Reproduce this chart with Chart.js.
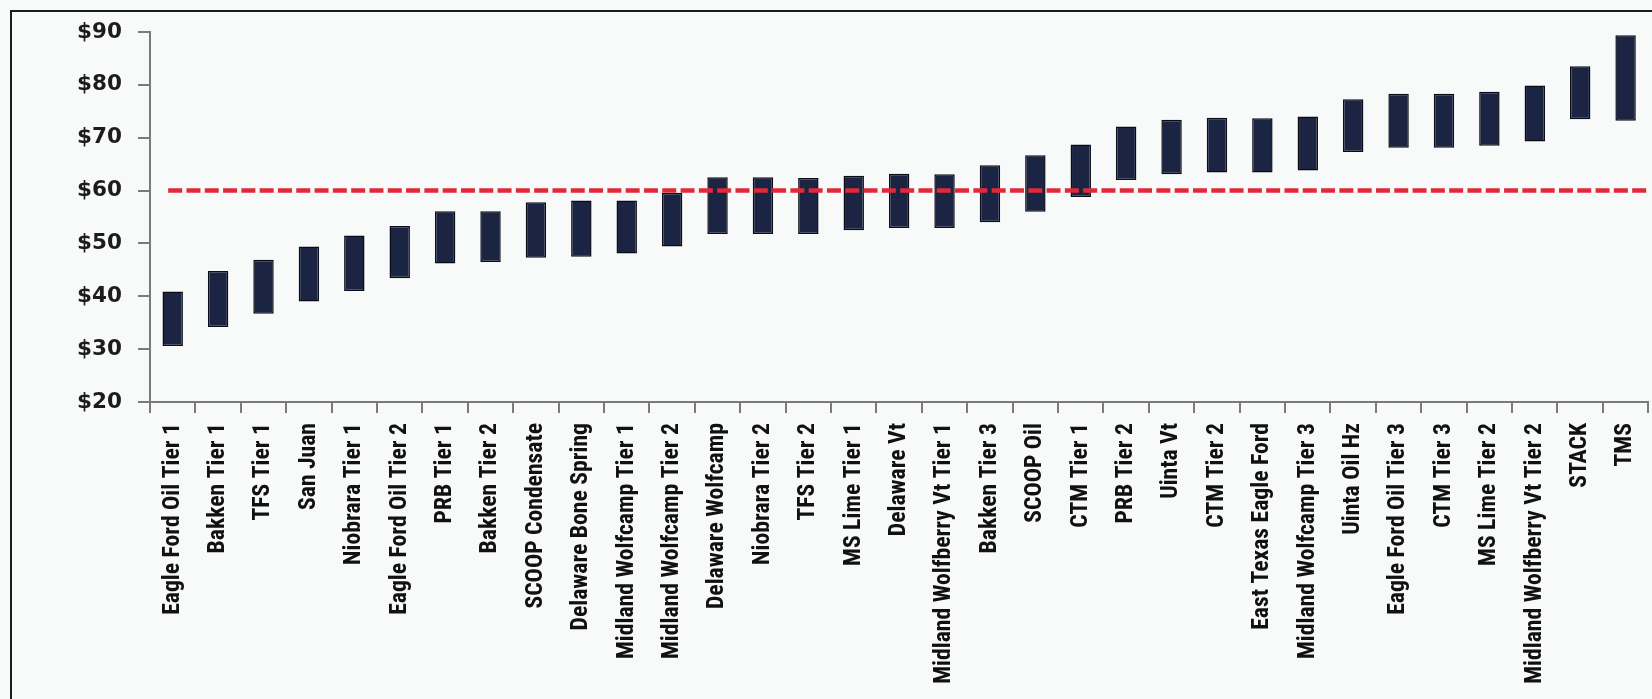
<!DOCTYPE html>
<html>
<head>
<meta charset="utf-8">
<script src="https://cdn.jsdelivr.net/npm/chart.js@4/dist/chart.umd.min.js"></script>
<style>
  html, body { margin: 0; padding: 0; overflow: hidden; background: #f8faf9; }
  #frame { position: absolute; left: 10px; top: 10px; width: 2000px; height: 2000px;
           border: 2px solid #1c1c1c; box-sizing: border-box; }
  #wrap { position: absolute; left: 0; top: 0; width: 1664px; height: 699px; }
</style>
</head>
<body>
<div id="frame"></div>
<div id="wrap"><canvas id="c"></canvas></div>
<script>
// ---- data ----
const categories = [
  "Eagle Ford Oil Tier 1", "Bakken Tier 1", "TFS Tier 1", "San Juan", "Niobrara Tier 1",
  "Eagle Ford Oil Tier 2", "PRB Tier 1", "Bakken Tier 2", "SCOOP Condensate", "Delaware Bone Spring",
  "Midland Wolfcamp Tier 1", "Midland Wolfcamp Tier 2", "Delaware Wolfcamp", "Niobrara Tier 2", "TFS Tier 2",
  "MS Lime Tier 1", "Delaware Vt", "Midland Wolfberry Vt Tier 1", "Bakken Tier 3", "SCOOP Oil",
  "CTM Tier 1", "PRB Tier 2", "Uinta Vt", "CTM Tier 2", "East Texas Eagle Ford",
  "Midland Wolfcamp Tier 3", "Uinta Oil Hz", "Eagle Ford Oil Tier 3", "CTM Tier 3", "MS Lime Tier 2",
  "Midland Wolfberry Vt Tier 2", "STACK", "TMS"
];
const lowPrice = [
  30.6, 34.2, 36.7, 39.0, 41.0, 43.4, 46.2, 46.5, 47.3, 47.5,
  48.1, 49.4, 51.8, 51.8, 51.8, 52.5, 52.9, 52.9, 54.0, 56.0,
  58.8, 62.0, 63.1, 63.4, 63.4, 63.8, 67.3, 68.1, 68.1, 68.5,
  69.3, 73.5, 73.2
];
const highPrice = [
  40.9, 44.8, 46.9, 49.4, 51.5, 53.3, 56.1, 56.1, 57.8, 58.1,
  58.1, 59.6, 62.5, 62.5, 62.4, 62.8, 63.2, 63.1, 64.8, 66.7,
  68.7, 72.1, 73.4, 73.8, 73.7, 74.0, 77.3, 78.3, 78.3, 78.7,
  79.9, 83.5, 89.4
];
const yTicks = [20, 30, 40, 50, 60, 70, 80, 90];
const referencePrice = 60;
const referenceSpan = [0.4, 33];   // in category units along the axis

// ---- font choice for rotated category labels ----
function pickLabelFont() {
  const ctx = document.createElement('canvas').getContext('2d');
  const sample = categories[0];
  const cands = ['Liberation Sans Narrow', 'Roboto Condensed', 'Open Sans Condensed', 'Liberation Sans'];
  ctx.font = 'bold 100px monospace';
  const base = ctx.measureText(sample).width;
  for (const f of cands) {
    ctx.font = 'bold 100px "' + f + '", monospace';
    const w = ctx.measureText(sample).width;
    if (Math.abs(w - base) > 0.5) return { family: '"' + f + '"', size: 192 / (w / 100) };
  }
  return { family: 'sans-serif', size: 19 };
}
const lf = pickLabelFont();

const ranges = categories.map((_, i) => [lowPrice[i], highPrice[i]]);

new Chart(document.getElementById('c'), {
  type: 'bar',
  data: {
    labels: categories,
    datasets: [
      {
        type: 'line',
        order: 0,
        xAxisID: 'xl',
        data: [{ x: referenceSpan[0], y: referencePrice }, { x: referenceSpan[1], y: referencePrice }],
        borderColor: '#e2293a',
        borderWidth: 4.5,
        borderDash: [14, 4.3],
        pointRadius: 0,
        fill: false
      },
      {
        type: 'bar',
        order: 1,
        xAxisID: 'x',
        data: ranges,
        grouped: false,
        backgroundColor: '#1b2543',
        borderColor: '#0a0d18',
        borderWidth: 1.5,
        borderSkipped: false,
        barPercentage: 0.45,
        categoryPercentage: 1.0
      }
    ]
  },
  options: {
    responsive: true,
    maintainAspectRatio: false,
    animation: false,
    layout: { padding: { top: 32, right: 1.3, left: 0, bottom: 0 } },
    plugins: { legend: { display: false }, tooltip: { enabled: false } },
    scales: {
      x: {
        type: 'category',
        offset: true,
        grid: { display: true, drawOnChartArea: false, offset: true, color: '#7a7a7a', lineWidth: 2, tickLength: 11 },
        border: { display: true, color: '#7a7a7a', width: 2 },
        ticks: {
          autoSkip: false, minRotation: 90, maxRotation: 90, padding: 10,
          color: '#111111',
          font: { family: lf.family, size: lf.size, weight: 'bold' }
        },
        afterFit: (s) => { s.height = 297; }
      },
      xl: {
        type: 'linear', display: false, offset: false, beginAtZero: false,
        min: 0, max: categories.length
      },
      y: {
        min: yTicks[0], max: yTicks[yTicks.length - 1],
        afterBuildTicks: (s) => { s.ticks = yTicks.map(v => ({ value: v })); },
        grid: { display: true, drawOnChartArea: false, color: '#7a7a7a', lineWidth: 2, tickLength: 12 },
        border: { display: true, color: '#7a7a7a', width: 2 },
        ticks: {
          padding: 16, color: '#1c1c1c',
          font: { family: '"DejaVu Sans"', size: 21.5, weight: 'bold' },
          callback: (v) => '$' + v
        },
        afterFit: (s) => { s.width = 150; }
      }
    }
  }
});
</script>
</body>
</html>
